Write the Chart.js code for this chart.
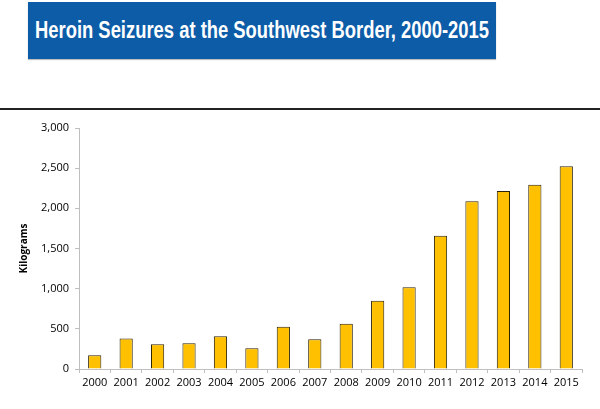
<!DOCTYPE html>
<html>
<head>
<meta charset="utf-8">
<script src="https://cdn.jsdelivr.net/npm/chart.js@4/dist/chart.umd.min.js"></script>
<style>
  html, body { margin: 0; padding: 0; background: #fff; }
  body { width: 600px; height: 409px; position: relative; overflow: hidden; }
  #title {
    position: absolute; left: 28px; top: 2px; width: 468px; height: 57px;
    background: #0c5ca8; color: #fff; overflow: hidden;
    box-shadow: 0 1px 1px rgba(0,0,0,0.25);
  }
  #title span {
    position: absolute; left: 50%; top: 0; white-space: nowrap;
    font-family: "Liberation Sans", Arial, sans-serif;
    font-weight: bold; font-size: 23px; line-height: 57px;
    transform: translateX(-50%) scaleX(0.8);
  }
  #rule { position: absolute; left: 0; top: 108px; width: 600px; height: 2px; background: #222; }
  #wrap { position: absolute; left: 0; top: 115px; width: 600px; height: 294px; }
</style>
</head>
<body>
<div id="title"><span>Heroin Seizures at the Southwest Border, 2000-2015</span></div>
<div id="rule"></div>
<div id="wrap"><canvas id="chart"></canvas></div>
<script>
const years = ["2000", "2001", "2002", "2003", "2004", "2005", "2006", "2007",
               "2008", "2009", "2010", "2011", "2012", "2013", "2014", "2015"];
const kilograms = [172, 380, 307, 320, 407, 258, 527, 370,
                   564, 851, 1017, 1660, 2088, 2217, 2295, 2524];
const yTicks = { min: 0, max: 3000, step: 500 };
const yTitle = "Kilograms";

const tickFont = { family: "'Open Sans', 'DejaVu Sans', sans-serif", size: 11 };

new Chart(document.getElementById("chart"), {
    type: "bar",
    data: {
        labels: years,
        datasets: [{
            data: kilograms,
            backgroundColor: "#ffc000",
            borderColor: "#2e2306",
            borderWidth: 1,
            borderSkipped: "bottom",
            barPercentage: 0.42,
            categoryPercentage: 1
        }]
    },
    options: {
        responsive: true,
        maintainAspectRatio: false,
        animation: false,
        layout: { padding: { top: 13, right: 18, bottom: 0, left: 0 } },
        plugins: { legend: { display: false }, tooltip: { enabled: false } },
        scales: {
            x: {
                grid: { offset: true, drawOnChartArea: false, tickLength: 4, color: "#bfbfbf" },
                border: { color: "#bfbfbf" },
                ticks: { color: "#000", font: tickFont, padding: 3, maxRotation: 0 },
                afterFit: (s) => { s.height = 40; }
            },
            y: {
                min: yTicks.min, max: yTicks.max,
                grid: { drawOnChartArea: false, tickLength: 4, color: "#bfbfbf" },
                border: { color: "#bfbfbf" },
                ticks: {
                    stepSize: yTicks.step, color: "#000", font: tickFont, padding: 6,
                    callback: (v) => v.toLocaleString("en-US")
                },
                title: {
                    display: true, text: yTitle, color: "#000",
                    font: { family: "'Open Sans', 'DejaVu Sans', sans-serif", size: 10, weight: "bold" },
                    padding: { top: 18, bottom: 0 }
                },
                afterFit: (s) => { s.width = 79; }
            }
        }
    }
});
</script>
</body>
</html>
